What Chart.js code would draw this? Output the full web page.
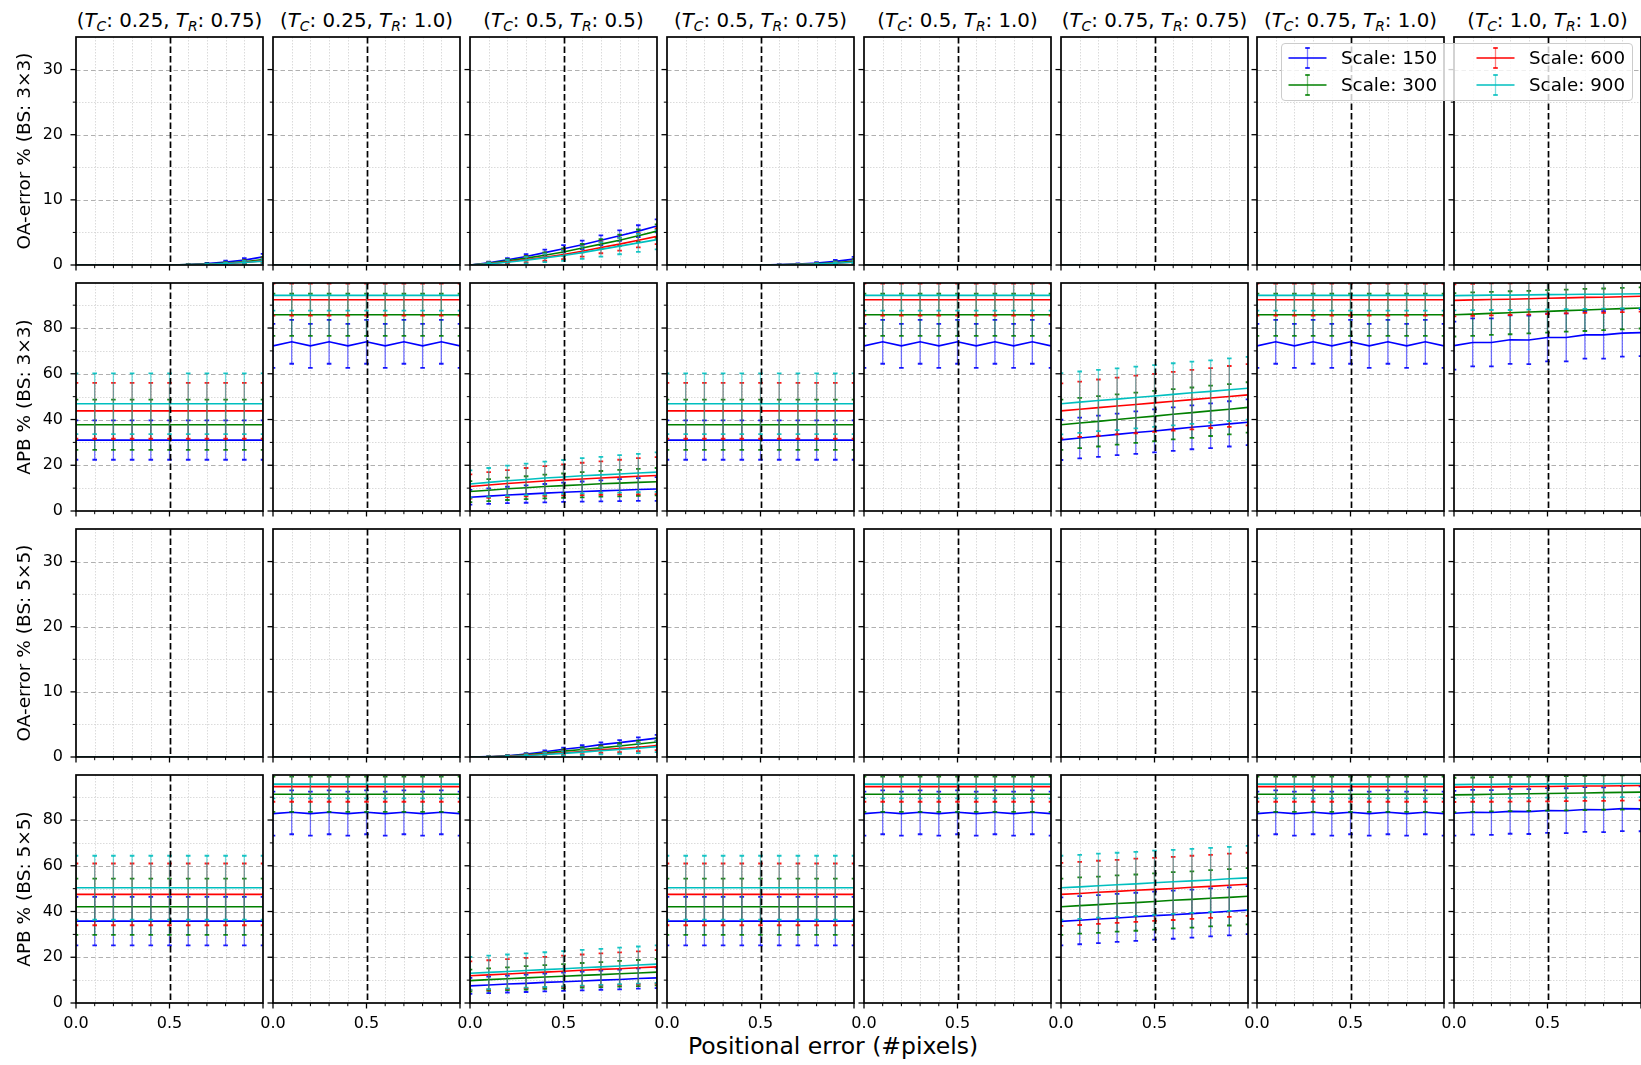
<!DOCTYPE html>
<html lang="en">
<head>
<meta charset="UTF-8">
<title>Positional error panels</title>
<script src="https://cdn.jsdelivr.net/npm/chart.js@4.4.1/dist/chart.umd.min.js"></script>
<style>
  html, body { margin: 0; padding: 0; background: #fff; }
  body { width: 1641px; height: 1065px; position: relative; overflow: hidden; font-family: "DejaVu Sans", sans-serif; color: #000; }
  canvas { position: absolute; }
  .col-title { position: absolute; top: 9px; width: 197px; text-align: center; font-size: 19.8px; line-height: 24px; white-space: nowrap; }
  .col-title sub { font-size: 0.7em; vertical-align: -0.3em; line-height: 0; }
  .x-title { position: absolute; left: 533px; width: 600px; top: 1032px; text-align: center; font-size: 23.5px; line-height: 28px; }
  #legend { position: absolute; left: 1281px; top: 43px; width: 352px; height: 58px; background: rgba(255,255,255,0.8); border: 1px solid #cccccc; border-radius: 4px; z-index: 10; box-sizing: border-box; }
  .entry { position: absolute; height: 26px; font-size: 18.3px; line-height: 26px; white-space: nowrap; }
  .entry svg { position: absolute; left: 0; top: 0; }
  .entry span { position: absolute; left: 53px; top: 0; }
</style>
</head>
<body>
<div id="legend"></div>
<div class="x-title">Positional error (#pixels)</div>

<script>
// ---- data -------------------------------------------------------------
const X_POS = [0.0, 0.1, 0.2, 0.3, 0.4, 0.5, 0.6, 0.7, 0.8, 0.9, 1.0];
const SCALE_LABELS = ['Scale: 150', 'Scale: 300', 'Scale: 600', 'Scale: 900'];
const SCALE_COLORS = ['#0000ff', '#008000', '#ff0000', '#00bfbf'];
const T_C = ['0.25', '0.25', '0.5', '0.5', '0.5', '0.75', '0.75', '1.0'];
const T_R = ['0.75', '1.0', '0.5', '0.75', '1.0', '0.75', '1.0', '1.0'];
const ROW_LABELS = ['OA-error % (BS: 3×3)', 'APB % (BS: 3×3)', 'OA-error % (BS: 5×5)', 'APB % (BS: 5×5)'];

const OA_MAJOR_TICKS = [0, 10, 20, 30];
const OA_MINOR_TICKS = [5, 15, 25];
const APB_MAJOR_TICKS = [0, 20, 40, 60, 80];
const APB_MINOR_TICKS = [10, 30, 50, 70, 90];
const X_LABEL_TICKS = [0.0, 0.5];
const X_MAJOR_TICKS = [0.0, 0.5, 1.0];
const X_MINOR_TICKS = [0.1, 0.2, 0.3, 0.4, 0.6, 0.7, 0.8, 0.9];

const ZERO = [0, 0, 0, 0, 0, 0, 0, 0, 0, 0, 0];
const ZERO_MEAN = [ZERO, ZERO, ZERO, ZERO];
const ZERO_ERR = [ZERO, ZERO, ZERO, ZERO];

// OA-error, BS 3x3
const OA3_TC025_TR075_MEAN = [
  [0, 0, 0, 0, 0, 0, 0.08, 0.22, 0.45, 0.75, 1.25],
  [0, 0, 0, 0, 0, 0, 0.05, 0.15, 0.30, 0.50, 0.85],
  [0, 0, 0, 0, 0, 0, 0.03, 0.10, 0.22, 0.40, 0.65],
  [0, 0, 0, 0, 0, 0, 0.03, 0.10, 0.22, 0.38, 0.60]
];
const OA3_TC025_TR075_ERR = [
  [0, 0, 0, 0, 0, 0, 0.05, 0.10, 0.20, 0.30, 0.45],
  [0, 0, 0, 0, 0, 0, 0.04, 0.08, 0.15, 0.25, 0.35],
  [0, 0, 0, 0, 0, 0, 0.03, 0.07, 0.15, 0.25, 0.35],
  [0, 0, 0, 0, 0, 0, 0.03, 0.07, 0.15, 0.25, 0.35]
];
const OA3_TC05_TR05_MEAN = [
  [0, 0.35, 0.80, 1.30, 1.90, 2.50, 3.10, 3.80, 4.50, 5.20, 6.00],
  [0, 0.28, 0.65, 1.05, 1.50, 2.00, 2.60, 3.20, 3.80, 4.50, 5.20],
  [0, 0.20, 0.50, 0.85, 1.20, 1.60, 2.10, 2.70, 3.20, 3.80, 4.40],
  [0, 0.18, 0.42, 0.75, 1.10, 1.45, 1.90, 2.40, 2.90, 3.40, 3.90]
];
const OA3_TC05_TR05_ERR = [
  [0, 0.15, 0.25, 0.35, 0.45, 0.55, 0.65, 0.75, 0.80, 0.90, 1.00],
  [0, 0.15, 0.25, 0.35, 0.45, 0.55, 0.65, 0.75, 0.85, 0.95, 1.05],
  [0, 0.20, 0.30, 0.45, 0.55, 0.70, 0.80, 0.90, 1.00, 1.10, 1.20],
  [0, 0.20, 0.35, 0.50, 0.65, 0.80, 0.95, 1.10, 1.25, 1.40, 1.50]
];
const OA3_TC05_TR075_MEAN = [
  [0, 0, 0, 0, 0, 0, 0.05, 0.15, 0.30, 0.55, 0.90],
  [0, 0, 0, 0, 0, 0, 0.03, 0.10, 0.20, 0.35, 0.60],
  [0, 0, 0, 0, 0, 0, 0.02, 0.07, 0.15, 0.28, 0.45],
  [0, 0, 0, 0, 0, 0, 0.02, 0.06, 0.14, 0.26, 0.42]
];
const OA3_TC05_TR075_ERR = [
  [0, 0, 0, 0, 0, 0, 0.04, 0.08, 0.15, 0.25, 0.35],
  [0, 0, 0, 0, 0, 0, 0.03, 0.06, 0.12, 0.20, 0.28],
  [0, 0, 0, 0, 0, 0, 0.02, 0.05, 0.10, 0.18, 0.25],
  [0, 0, 0, 0, 0, 0, 0.02, 0.05, 0.10, 0.18, 0.25]
];

// APB, BS 3x3
const APB3_FLAT_MID_MEAN = [
  [31.0, 31.0, 31.0, 31.0, 31.0, 31.0, 31.0, 31.0, 31.0, 31.0, 31.0],
  [37.7, 37.7, 37.7, 37.7, 37.7, 37.7, 37.7, 37.7, 37.7, 37.7, 37.7],
  [43.8, 43.8, 43.8, 43.8, 43.8, 43.8, 43.8, 43.8, 43.8, 43.8, 43.8],
  [46.9, 46.9, 46.9, 46.9, 46.9, 46.9, 46.9, 46.9, 46.9, 46.9, 46.9]
];
const APB3_FLAT_MID_ERR = [
  [8.6, 8.6, 8.6, 8.6, 8.6, 8.6, 8.6, 8.6, 8.6, 8.6, 8.6],
  [11.0, 11.0, 11.0, 11.0, 11.0, 11.0, 11.0, 11.0, 11.0, 11.0, 11.0],
  [12.2, 12.2, 12.2, 12.2, 12.2, 12.2, 12.2, 12.2, 12.2, 12.2, 12.2],
  [13.3, 13.3, 13.3, 13.3, 13.3, 13.3, 13.3, 13.3, 13.3, 13.3, 13.3]
];
const APB3_FLAT_HIGH_MEAN = [
  [72.2, 74.0, 72.2, 74.0, 72.2, 74.0, 72.2, 74.0, 72.2, 74.0, 72.2],
  [85.8, 85.8, 85.8, 85.8, 85.8, 85.8, 85.8, 85.8, 85.8, 85.8, 85.8],
  [92.4, 92.4, 92.4, 92.4, 92.4, 92.4, 92.4, 92.4, 92.4, 92.4, 92.4],
  [94.3, 94.3, 94.3, 94.3, 94.3, 94.3, 94.3, 94.3, 94.3, 94.3, 94.3]
];
const APB3_FLAT_HIGH_ERR = [
  [9.6, 9.6, 9.6, 9.6, 9.6, 9.6, 9.6, 9.6, 9.6, 9.6, 9.6],
  [9.2, 9.2, 9.2, 9.2, 9.2, 9.2, 9.2, 9.2, 9.2, 9.2, 9.2],
  [7.0, 7.0, 7.0, 7.0, 7.0, 7.0, 7.0, 7.0, 7.0, 7.0, 7.0],
  [6.7, 6.7, 6.7, 6.7, 6.7, 6.7, 6.7, 6.7, 6.7, 6.7, 6.7]
];
const APB3_TC05_TR05_MEAN = [
  [6.0, 6.5, 7.0, 7.4, 7.8, 8.2, 8.5, 8.8, 9.1, 9.4, 9.6],
  [8.5, 9.1, 9.7, 10.2, 10.7, 11.1, 11.5, 11.9, 12.2, 12.5, 12.8],
  [10.7, 11.4, 12.0, 12.6, 13.1, 13.6, 14.0, 14.4, 14.8, 15.2, 15.5],
  [11.8, 12.5, 13.2, 13.8, 14.4, 14.9, 15.4, 15.8, 16.2, 16.6, 17.0]
];
const APB3_TC05_TR05_ERR = [
  [3.2, 3.4, 3.6, 3.8, 4.0, 4.2, 4.4, 4.6, 4.8, 5.0, 5.2],
  [4.6, 4.8, 4.9, 5.0, 5.2, 5.3, 5.5, 5.6, 5.8, 5.9, 6.0],
  [5.3, 5.6, 5.9, 6.2, 6.5, 6.8, 7.1, 7.3, 7.6, 7.9, 8.1],
  [6.0, 6.3, 6.6, 6.9, 7.2, 7.4, 7.7, 7.9, 8.2, 8.4, 8.6]
];
const APB3_TC075_TR075_MEAN = [
  [31.1, 31.9, 32.7, 33.5, 34.3, 35.0, 35.8, 36.6, 37.3, 38.1, 38.8],
  [37.7, 38.5, 39.2, 40.0, 40.8, 41.5, 42.3, 43.0, 43.8, 44.5, 45.3],
  [43.8, 44.5, 45.2, 45.9, 46.6, 47.3, 48.0, 48.7, 49.4, 50.1, 50.8],
  [46.9, 47.6, 48.3, 48.9, 49.6, 50.3, 51.0, 51.7, 52.3, 53.0, 53.7]
];
const APB3_TC075_TR075_ERR = [
  [8.8, 8.9, 9.0, 9.1, 9.3, 9.4, 9.5, 9.6, 9.8, 9.9, 10.0],
  [11.0, 11.0, 11.0, 11.0, 11.0, 11.0, 11.0, 11.0, 11.0, 11.0, 11.0],
  [12.0, 12.1, 12.3, 12.4, 12.6, 12.7, 12.8, 13.0, 13.1, 13.3, 13.4],
  [13.4, 13.4, 13.4, 13.5, 13.5, 13.5, 13.6, 13.6, 13.6, 13.7, 13.7]
];
const APB3_TC10_TR10_MEAN = [
  [72.3, 73.7, 73.7, 74.9, 74.8, 75.9, 75.9, 77.0, 77.0, 77.8, 78.0],
  [85.8, 86.1, 86.4, 86.7, 87.0, 87.3, 87.6, 87.9, 88.2, 88.5, 88.8],
  [92.1, 92.3, 92.5, 92.6, 92.8, 93.0, 93.2, 93.4, 93.5, 93.7, 93.9],
  [94.2, 94.3, 94.4, 94.4, 94.5, 94.6, 94.7, 94.8, 94.8, 94.9, 95.0]
];
const APB3_TC10_TR10_ERR = [
  [10.5, 10.5, 10.5, 10.6, 10.6, 10.5, 10.5, 10.4, 10.4, 10.3, 10.3],
  [9.5, 9.5, 9.4, 9.4, 9.3, 9.3, 9.2, 9.2, 9.1, 9.1, 9.0],
  [7.0, 7.0, 7.0, 6.9, 6.9, 6.9, 6.8, 6.8, 6.8, 6.7, 6.7],
  [6.5, 6.5, 6.5, 6.5, 6.4, 6.4, 6.4, 6.4, 6.3, 6.3, 6.3]
];

// OA-error, BS 5x5
const OA5_TC05_TR05_MEAN = [
  [0, 0.05, 0.20, 0.45, 0.80, 1.20, 1.50, 1.90, 2.20, 2.55, 2.90],
  [0, 0.03, 0.15, 0.35, 0.60, 0.90, 1.15, 1.40, 1.70, 2.00, 2.30],
  [0, 0.02, 0.10, 0.25, 0.45, 0.65, 0.85, 1.10, 1.30, 1.50, 1.75],
  [0, 0.02, 0.08, 0.20, 0.38, 0.55, 0.75, 0.95, 1.15, 1.35, 1.60]
];
const OA5_TC05_TR05_ERR = [
  [0, 0.05, 0.10, 0.15, 0.20, 0.25, 0.30, 0.35, 0.40, 0.45, 0.50],
  [0, 0.05, 0.10, 0.15, 0.20, 0.28, 0.33, 0.38, 0.43, 0.50, 0.55],
  [0, 0.05, 0.10, 0.18, 0.25, 0.32, 0.40, 0.48, 0.55, 0.62, 0.70],
  [0, 0.05, 0.12, 0.20, 0.28, 0.36, 0.45, 0.55, 0.65, 0.75, 0.85]
];

// APB, BS 5x5
const APB5_FLAT_MID_MEAN = [
  [35.8, 35.8, 35.8, 35.8, 35.8, 35.8, 35.8, 35.8, 35.8, 35.8, 35.8],
  [42.1, 42.1, 42.1, 42.1, 42.1, 42.1, 42.1, 42.1, 42.1, 42.1, 42.1],
  [47.5, 47.5, 47.5, 47.5, 47.5, 47.5, 47.5, 47.5, 47.5, 47.5, 47.5],
  [50.4, 50.4, 50.4, 50.4, 50.4, 50.4, 50.4, 50.4, 50.4, 50.4, 50.4]
];
const APB5_FLAT_MID_ERR = [
  [10.6, 10.6, 10.6, 10.6, 10.6, 10.6, 10.6, 10.6, 10.6, 10.6, 10.6],
  [12.3, 12.3, 12.3, 12.3, 12.3, 12.3, 12.3, 12.3, 12.3, 12.3, 12.3],
  [13.5, 13.5, 13.5, 13.5, 13.5, 13.5, 13.5, 13.5, 13.5, 13.5, 13.5],
  [14.0, 14.0, 14.0, 14.0, 14.0, 14.0, 14.0, 14.0, 14.0, 14.0, 14.0]
];
const APB5_FLAT_HIGH_MEAN = [
  [82.8, 83.4, 82.8, 83.4, 82.8, 83.4, 82.8, 83.4, 82.8, 83.4, 82.8],
  [91.3, 91.3, 91.3, 91.3, 91.3, 91.3, 91.3, 91.3, 91.3, 91.3, 91.3],
  [94.6, 94.6, 94.6, 94.6, 94.6, 94.6, 94.6, 94.6, 94.6, 94.6, 94.6],
  [95.7, 95.7, 95.7, 95.7, 95.7, 95.7, 95.7, 95.7, 95.7, 95.7, 95.7]
];
const APB5_FLAT_HIGH_ERR = [
  [9.6, 9.6, 9.6, 9.6, 9.6, 9.6, 9.6, 9.6, 9.6, 9.6, 9.6],
  [7.7, 7.7, 7.7, 7.7, 7.7, 7.7, 7.7, 7.7, 7.7, 7.7, 7.7],
  [6.6, 6.6, 6.6, 6.6, 6.6, 6.6, 6.6, 6.6, 6.6, 6.6, 6.6],
  [6.2, 6.2, 6.2, 6.2, 6.2, 6.2, 6.2, 6.2, 6.2, 6.2, 6.2]
];
const APB5_TC05_TR05_MEAN = [
  [7.5, 7.9, 8.3, 8.6, 9.0, 9.3, 9.6, 10.0, 10.3, 10.7, 11.0],
  [9.8, 10.2, 10.6, 11.0, 11.4, 11.7, 12.1, 12.4, 12.8, 13.1, 13.5],
  [11.9, 12.3, 12.7, 13.1, 13.5, 13.9, 14.3, 14.7, 15.0, 15.4, 15.8],
  [13.0, 13.4, 13.8, 14.2, 14.6, 15.0, 15.4, 15.8, 16.2, 16.6, 17.0]
];
const APB5_TC05_TR05_ERR = [
  [3.5, 3.6, 3.7, 3.8, 3.9, 4.0, 4.1, 4.2, 4.3, 4.4, 4.5],
  [4.8, 4.9, 5.0, 5.1, 5.2, 5.3, 5.4, 5.5, 5.6, 5.7, 5.8],
  [6.3, 6.4, 6.5, 6.6, 6.7, 6.8, 6.9, 7.0, 7.1, 7.2, 7.3],
  [7.2, 7.3, 7.4, 7.5, 7.6, 7.7, 7.8, 7.9, 8.0, 8.1, 8.2]
];
const APB5_TC075_TR075_MEAN = [
  [35.7, 36.2, 36.7, 37.2, 37.7, 38.2, 38.6, 39.1, 39.6, 40.1, 40.6],
  [42.1, 42.6, 43.0, 43.5, 43.9, 44.4, 44.9, 45.3, 45.8, 46.2, 46.7],
  [47.5, 47.9, 48.4, 48.8, 49.3, 49.7, 50.1, 50.6, 51.0, 51.5, 51.9],
  [50.4, 50.8, 51.3, 51.7, 52.1, 52.6, 53.0, 53.4, 53.8, 54.3, 54.7]
];
const APB5_TC075_TR075_ERR = [
  [10.5, 10.5, 10.5, 10.5, 10.5, 10.5, 10.5, 10.5, 10.5, 10.5, 10.5],
  [12.3, 12.3, 12.3, 12.3, 12.3, 12.3, 12.3, 12.3, 12.3, 12.3, 12.3],
  [13.8, 13.8, 13.8, 13.8, 13.8, 13.8, 13.8, 13.8, 13.8, 13.8, 13.8],
  [14.0, 14.0, 14.0, 14.0, 14.0, 14.0, 14.0, 14.0, 14.0, 14.0, 14.0]
];
const APB5_TC10_TR10_MEAN = [
  [83.0, 83.4, 83.3, 83.8, 83.7, 84.2, 84.1, 84.6, 84.5, 85.0, 84.9],
  [91.0, 91.1, 91.3, 91.4, 91.5, 91.6, 91.7, 91.8, 92.0, 92.1, 92.2],
  [94.4, 94.5, 94.5, 94.6, 94.7, 94.7, 94.8, 94.9, 94.9, 95.0, 95.1],
  [95.5, 95.6, 95.6, 95.7, 95.7, 95.8, 95.8, 95.9, 95.9, 96.0, 96.0]
];
const APB5_TC10_TR10_ERR = [
  [9.8, 9.8, 9.8, 9.8, 9.8, 9.8, 9.8, 9.8, 9.8, 9.8, 9.8],
  [7.5, 7.5, 7.5, 7.5, 7.5, 7.5, 7.5, 7.5, 7.5, 7.5, 7.5],
  [6.5, 6.5, 6.5, 6.5, 6.5, 6.5, 6.5, 6.5, 6.5, 6.5, 6.5],
  [6.0, 6.0, 6.0, 6.0, 6.0, 6.0, 6.0, 6.0, 6.0, 6.0, 6.0]
];

// one [mean, err] pair per column, for each row
const ROW_OA3 = [
  [OA3_TC025_TR075_MEAN, OA3_TC025_TR075_ERR], [ZERO_MEAN, ZERO_ERR],
  [OA3_TC05_TR05_MEAN, OA3_TC05_TR05_ERR], [OA3_TC05_TR075_MEAN, OA3_TC05_TR075_ERR],
  [ZERO_MEAN, ZERO_ERR], [ZERO_MEAN, ZERO_ERR], [ZERO_MEAN, ZERO_ERR], [ZERO_MEAN, ZERO_ERR]
];
const ROW_APB3 = [
  [APB3_FLAT_MID_MEAN, APB3_FLAT_MID_ERR], [APB3_FLAT_HIGH_MEAN, APB3_FLAT_HIGH_ERR],
  [APB3_TC05_TR05_MEAN, APB3_TC05_TR05_ERR], [APB3_FLAT_MID_MEAN, APB3_FLAT_MID_ERR],
  [APB3_FLAT_HIGH_MEAN, APB3_FLAT_HIGH_ERR], [APB3_TC075_TR075_MEAN, APB3_TC075_TR075_ERR],
  [APB3_FLAT_HIGH_MEAN, APB3_FLAT_HIGH_ERR], [APB3_TC10_TR10_MEAN, APB3_TC10_TR10_ERR]
];
const ROW_OA5 = [
  [ZERO_MEAN, ZERO_ERR], [ZERO_MEAN, ZERO_ERR], [OA5_TC05_TR05_MEAN, OA5_TC05_TR05_ERR],
  [ZERO_MEAN, ZERO_ERR], [ZERO_MEAN, ZERO_ERR], [ZERO_MEAN, ZERO_ERR],
  [ZERO_MEAN, ZERO_ERR], [ZERO_MEAN, ZERO_ERR]
];
const ROW_APB5 = [
  [APB5_FLAT_MID_MEAN, APB5_FLAT_MID_ERR], [APB5_FLAT_HIGH_MEAN, APB5_FLAT_HIGH_ERR],
  [APB5_TC05_TR05_MEAN, APB5_TC05_TR05_ERR], [APB5_FLAT_MID_MEAN, APB5_FLAT_MID_ERR],
  [APB5_FLAT_HIGH_MEAN, APB5_FLAT_HIGH_ERR], [APB5_TC075_TR075_MEAN, APB5_TC075_TR075_ERR],
  [APB5_FLAT_HIGH_MEAN, APB5_FLAT_HIGH_ERR], [APB5_TC10_TR10_MEAN, APB5_TC10_TR10_ERR]
];
const ROW_PANELS = [ROW_OA3, ROW_APB3, ROW_OA5, ROW_APB5];
const ROW_Y_MAX = [35, 99.7, 35, 99.7];
const ROW_Y_MAJOR = [OA_MAJOR_TICKS, APB_MAJOR_TICKS, OA_MAJOR_TICKS, APB_MAJOR_TICKS];
const ROW_Y_MINOR = [OA_MINOR_TICKS, APB_MINOR_TICKS, OA_MINOR_TICKS, APB_MINOR_TICKS];

// ---- layout -----------------------------------------------------------
const FONT = '"DejaVu Sans", sans-serif';
const PANEL_W = 187, PANEL_H = 228;
const Y_AXIS_W = 76, X_AXIS_H = 40, PAD_TOP = 2, PAD_RIGHT = 2;
const colLeft = c => Math.round(76 + c * 196.9);
const rowTop = r => Math.round(36.7 + r * 246.2);

// grid, spines, ticks, the 0.5 marker and error bars
const panelDeco = {
  id: 'panelDeco',
  beforeDatasetsDraw(chart, args, opts) {
    const {ctx, chartArea: a, scales: {x, y}} = chart;
    const r = opts.row;
    ctx.save();
    ctx.lineWidth = 0.8;
    ctx.strokeStyle = '#d2d2d2';
    ctx.setLineDash([1.5, 1.5]);
    X_MINOR_TICKS.forEach(v => {
      const px = Math.round(x.getPixelForValue(v)) + 0.5;
      ctx.beginPath(); ctx.moveTo(px, a.top); ctx.lineTo(px, a.bottom); ctx.stroke();
    });
    ROW_Y_MINOR[r].forEach(v => {
      const py = Math.round(y.getPixelForValue(v)) + 0.5;
      ctx.beginPath(); ctx.moveTo(a.left, py); ctx.lineTo(a.right, py); ctx.stroke();
    });
    ctx.lineWidth = 1.1;
    ctx.strokeStyle = '#b0b0b0';
    ctx.setLineDash([4.5, 3]);
    ROW_Y_MAJOR[r].forEach(v => {
      if (v === 0) return;
      const py = Math.round(y.getPixelForValue(v)) + 0.5;
      ctx.beginPath(); ctx.moveTo(a.left, py); ctx.lineTo(a.right, py); ctx.stroke();
    });
    ctx.restore();
  },
  beforeDatasetDraw(chart, args) {
    const ds = chart.data.datasets[args.index];
    if (!ds.errors) return;
    const {ctx, chartArea: a, scales: {x, y}} = chart;
    ctx.save();
    ctx.beginPath();
    ctx.rect(a.left, a.top, a.right - a.left, a.bottom - a.top);
    ctx.clip();
    ctx.strokeStyle = ds.borderColor;
    ds.data.forEach((p, i) => {
      const e = ds.errors[i];
      if (!e) return;
      const px = x.getPixelForValue(p.x);
      const y1 = y.getPixelForValue(p.y - e), y2 = y.getPixelForValue(p.y + e);
      ctx.globalAlpha = 0.55;
      ctx.lineWidth = 1.3;
      ctx.beginPath(); ctx.moveTo(px, y1); ctx.lineTo(px, y2); ctx.stroke();
      ctx.globalAlpha = 0.9;
      ctx.lineWidth = 1.8;
      ctx.beginPath();
      ctx.moveTo(px - 2.3, y1); ctx.lineTo(px + 2.3, y1);
      ctx.moveTo(px - 2.3, y2); ctx.lineTo(px + 2.3, y2);
      ctx.stroke();
    });
    ctx.restore();
  },
  afterDatasetsDraw(chart, args, opts) {
    const {ctx, chartArea: a, scales: {x, y}} = chart;
    const r = opts.row;
    ctx.save();
    // threshold marker at 0.5
    const mx = Math.round(x.getPixelForValue(0.5)) + 0.5;
    ctx.strokeStyle = '#000';
    ctx.lineWidth = 1.7;
    ctx.setLineDash([6.5, 3]);
    ctx.beginPath(); ctx.moveTo(mx, a.top); ctx.lineTo(mx, a.bottom); ctx.stroke();
    ctx.setLineDash([]);
    // spines
    ctx.lineWidth = 1.7;
    ctx.strokeRect(a.left, a.top, a.right - a.left, a.bottom - a.top);
    // tick marks
    const tick = (vals, len, w, horiz) => {
      ctx.lineWidth = w;
      vals.forEach(v => {
        ctx.beginPath();
        if (horiz) {
          const px = x.getPixelForValue(v);
          ctx.moveTo(px, a.bottom); ctx.lineTo(px, a.bottom + len);
        } else {
          const py = y.getPixelForValue(v);
          ctx.moveTo(a.left, py); ctx.lineTo(a.left - len, py);
        }
        ctx.stroke();
      });
    };
    tick(X_MAJOR_TICKS, 5.5, 1.3, true);
    tick(X_MINOR_TICKS.filter(v => v !== 0.5), 3.2, 1, true);
    tick(ROW_Y_MAJOR[r], 5.5, 1.3, false);
    tick(ROW_Y_MINOR[r], 3.2, 1, false);
    ctx.restore();
  }
};

function makePanel(r, c) {
  const [means, errs] = ROW_PANELS[r][c];
  const canvas = document.createElement('canvas');
  canvas.width = Y_AXIS_W + PANEL_W + PAD_RIGHT;
  canvas.height = PAD_TOP + PANEL_H + X_AXIS_H;
  canvas.style.left = (colLeft(c) - Y_AXIS_W) + 'px';
  canvas.style.top = (rowTop(r) - PAD_TOP) + 'px';
  document.body.appendChild(canvas);

  const datasets = SCALE_LABELS.map((label, s) => ({
    label: label,
    data: X_POS.map((xv, i) => ({x: xv, y: means[s][i]})),
    errors: errs[s],
    borderColor: SCALE_COLORS[s],
    borderWidth: 1.6,
    pointRadius: 0,
    fill: false,
    tension: 0,
    order: 4 - s
  }));

  new Chart(canvas, {
    type: 'line',
    data: {datasets: datasets},
    options: {
      responsive: false,
      animation: false,
      events: [],
      layout: {padding: {top: PAD_TOP, right: PAD_RIGHT, left: 0, bottom: 0}},
      plugins: {
        legend: {display: false},
        tooltip: {enabled: false},
        panelDeco: {row: r}
      },
      scales: {
        x: {
          type: 'linear', min: 0, max: 1,
          grid: {display: false, drawTicks: false},
          border: {display: false},
          afterBuildTicks: s => { s.ticks = X_LABEL_TICKS.map(v => ({value: v})); },
          afterFit: s => { s.height = X_AXIS_H; s.paddingLeft = 0; s.paddingRight = 0; },
          ticks: {
            display: r === 3, autoSkip: false, maxRotation: 0, padding: 11,
            color: '#000', font: {family: FONT, size: 16},
            callback: v => Number(v).toFixed(1)
          }
        },
        y: {
          type: 'linear', min: 0, max: ROW_Y_MAX[r],
          grid: {display: false, drawTicks: false},
          border: {display: false},
          afterBuildTicks: s => { s.ticks = ROW_Y_MAJOR[r].map(v => ({value: v})); },
          afterFit: s => { s.width = Y_AXIS_W; s.paddingTop = 0; s.paddingBottom = 0; },
          ticks: {
            display: c === 0, padding: 13,
            color: '#000', font: {family: FONT, size: 16},
            callback: v => String(v)
          },
          title: {
            display: c === 0, text: ROW_LABELS[r], color: '#000',
            font: {family: FONT, size: 18.5}, padding: {top: 14, bottom: 0}
          }
        }
      }
    },
    plugins: [panelDeco]
  });
}

for (let r = 0; r < 4; r++) {
  for (let c = 0; c < 8; c++) makePanel(r, c);
}

// column titles
T_C.forEach((tc, c) => {
  const d = document.createElement('div');
  d.className = 'col-title';
  d.style.left = (colLeft(c) + PANEL_W / 2 - 98.5) + 'px';
  d.innerHTML = '(<i>T<sub>C</sub></i>: ' + tc + ', <i>T<sub>R</sub></i>: ' + T_R[c] + ')';
  document.body.appendChild(d);
});

// legend (two columns, two rows)
const legend = document.getElementById('legend');
SCALE_LABELS.forEach((label, s) => {
  const col = s < 2 ? 0 : 1, row = s % 2;
  const e = document.createElement('div');
  e.className = 'entry';
  e.style.left = (col === 0 ? 6 : 194) + 'px';
  e.style.top = (row === 0 ? 1 : 28) + 'px';
  const clr = SCALE_COLORS[s];
  e.innerHTML =
    '<svg width="40" height="26" viewBox="0 0 40 26">' +
    '<line x1="0.5" y1="13" x2="38.5" y2="13" stroke="' + clr + '" stroke-width="1.6"/>' +
    '<line x1="19.5" y1="3" x2="19.5" y2="23" stroke="' + clr + '" stroke-opacity="0.5" stroke-width="1.3"/>' +
    '<line x1="17.2" y1="3" x2="21.8" y2="3" stroke="' + clr + '" stroke-opacity="0.9" stroke-width="1.8"/>' +
    '<line x1="17.2" y1="23" x2="21.8" y2="23" stroke="' + clr + '" stroke-opacity="0.9" stroke-width="1.8"/>' +
    '</svg><span>' + label + '</span>';
  legend.appendChild(e);
});
</script>
</body>
</html>
